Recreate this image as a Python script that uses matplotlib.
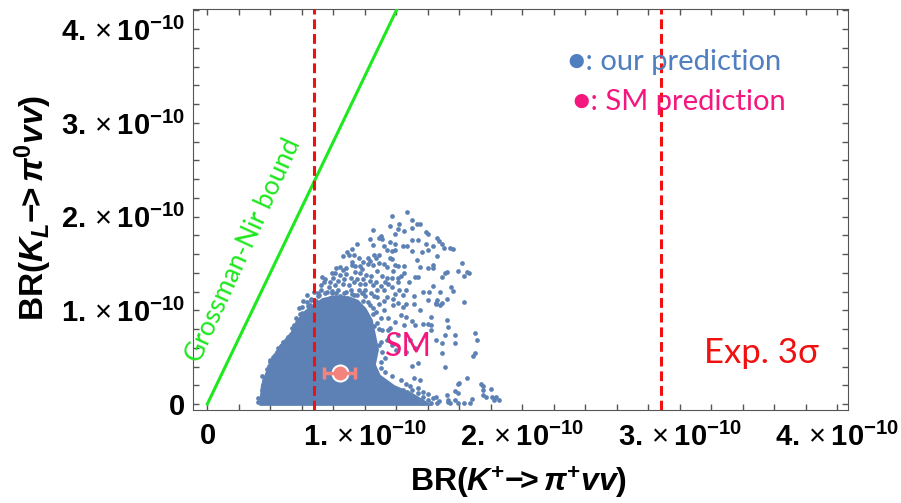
import numpy as np
import matplotlib.pyplot as plt
from matplotlib.ticker import MultipleLocator, FuncFormatter

# fonts: Arial-like bold for axes (Mathematica look), Calibri-like for annotations
plt.rcParams['mathtext.fontset'] = 'custom'
plt.rcParams['mathtext.rm'] = 'Liberation Sans'
plt.rcParams['mathtext.bf'] = 'Liberation Sans:bold'
plt.rcParams['mathtext.it'] = 'Liberation Sans:italic'
plt.rcParams['mathtext.bfit'] = 'Liberation Sans:bold:italic'
plt.rcParams['font.family'] = ['Liberation Sans', 'DejaVu Sans']

# all branching ratios in units of 1e-10
# solid (densely filled) part of the scan, outline
core_x = [0.33, 0.34, 0.37, 0.41, 0.46, 0.53, 0.58, 0.62, 0.67, 0.73, 0.81, 0.90,
          0.96, 1.01, 1.05, 1.07, 1.09, 1.07, 1.10, 1.19, 1.30, 1.38, 1.43]
core_y = [-0.02, 0.20, 0.34, 0.49, 0.63, 0.77, 0.92, 1.00, 1.06, 1.13, 1.16, 1.15,
          1.11, 1.02, 0.90, 0.74, 0.58, 0.42, 0.31, 0.20, 0.12, 0.04, -0.02]

# scattered scan points, upper cloud
upper_x = [1.27, 1.17, 1.30, 1.33, 1.35, 1.22, 1.16, 1.05, 1.21, 1.25, 1.30, 1.39, 1.40,
           1.19, 1.10, 1.09, 1.11, 1.03, 1.30, 1.34, 1.46, 1.47, 1.16, 1.19, 1.39, 0.95,
           1.05, 1.24, 1.27, 1.43, 1.49, 1.50, 1.12, 1.14, 1.17, 1.19, 1.54, 1.56, 0.92,
           0.89, 0.90, 0.86, 1.06, 1.09, 1.07, 1.16, 1.17, 1.30, 1.36, 1.40, 1.46, 0.93,
           0.96, 1.02, 1.03, 1.33, 1.62, 0.92, 0.94, 0.97, 1.02, 1.05, 1.12, 1.14, 1.19,
           1.21, 1.25, 1.35, 1.40, 1.43, 1.43, 0.84, 0.86, 1.52, 1.59, 1.63, 1.66, 0.81,
           0.84, 0.88, 0.94, 0.97, 1.01, 1.04, 1.11, 1.14, 1.17, 1.21, 1.23, 1.32, 1.34,
           1.49, 0.74, 0.77, 0.81, 0.86, 0.90, 0.93, 0.97, 1.00, 1.05, 1.10, 1.15, 1.21,
           1.43, 1.48, 1.55, 0.76, 0.79, 1.22, 1.37, 1.41, 0.70, 0.66, 0.93, 1.00, 1.06,
           1.14, 1.18, 1.24, 1.31, 1.35, 1.26, 1.45, 1.48, 1.40, 1.52, 1.63, 0.60, 0.65,
           1.65, 1.51, 1.56, 1.46, 0.72, 0.83, 0.88, 0.91, 0.96, 0.84, 0.78, 0.99,
           0.75, 0.78, 0.80, 0.83, 0.87, 0.91, 0.95, 0.99, 1.03, 1.07, 1.08, 1.12, 1.13,
           0.72, 0.68, 0.82, 0.88, 0.98, 1.08, 1.00, 1.04, 1.08, 1.12, 0.98, 0.63, 0.73,
           0.79, 0.92, 0.99, 1.09, 1.18, 1.25, 1.28, 1.17, 1.26, 1.31, 1.19]
upper_y = [2.05, 2.01, 1.96, 1.92, 1.92, 1.92, 1.90, 1.86, 1.87, 1.85, 1.88, 1.84, 1.81,
           1.81, 1.79, 1.77, 1.76, 1.76, 1.75, 1.75, 1.77, 1.74, 1.73, 1.71, 1.71, 1.71,
           1.70, 1.69, 1.69, 1.69, 1.71, 1.66, 1.69, 1.64, 1.63, 1.64, 1.66, 1.65, 1.65,
           1.62, 1.59, 1.58, 1.59, 1.59, 1.56, 1.56, 1.55, 1.63, 1.62, 1.64, 1.58, 1.59,
           1.56, 1.56, 1.53, 1.54, 1.50, 1.48, 1.47, 1.47, 1.49, 1.48, 1.49, 1.46, 1.48,
           1.47, 1.47, 1.46, 1.45, 1.48, 1.45, 1.46, 1.43, 1.41, 1.42, 1.37, 1.40, 1.40,
           1.38, 1.39, 1.41, 1.40, 1.38, 1.37, 1.37, 1.34, 1.34, 1.34, 1.37, 1.36, 1.36,
           1.36, 1.30, 1.25, 1.27, 1.28, 1.27, 1.30, 1.28, 1.28, 1.27, 1.26, 1.28, 1.30,
           1.26, 1.20, 1.25, 1.20, 1.18, 1.22, 1.20, 1.20, 1.15, 1.11, 1.16, 1.15, 1.15,
           1.14, 1.12, 1.16, 1.07, 1.00, 1.07, 1.07, 1.06, 1.11, 1.12, 1.09, 1.04, 1.06,
           1.41, 1.40, 1.21, 1.11, 1.22, 1.22, 1.20, 1.22, 1.22, 1.15, 1.13, 1.19,
           1.33, 1.30, 1.35, 1.31, 1.33, 1.35, 1.33, 1.33, 1.31, 1.30, 1.22, 1.22, 1.30,
           1.27, 1.20, 1.45, 1.45, 1.44, 1.42, 1.22, 1.18, 1.14, 1.10, 1.19, 1.16, 1.36,
           1.40, 1.52, 1.52, 1.50, 1.42, 1.40, 1.30, 1.25, 1.22, 1.15, 1.17]

# scattered scan points, middle band and right tail
tail_x = [1.18, 1.21, 1.24, 1.45, 1.49, 1.26, 1.30, 1.32, 1.37, 1.40, 1.42, 1.52, 1.53,
          1.57, 1.57, 1.70, 1.45, 1.49, 1.34, 1.30, 1.51, 1.49, 1.70, 1.69, 1.65, 1.60,
          1.75, 1.80, 1.57, 1.77, 1.81, 1.85, 1.45, 1.40, 1.47, 1.53, 1.57, 1.68, 1.30,
          1.34, 1.37, 1.24, 1.27, 1.59, 1.59, 1.74, 1.75, 1.75, 1.83, 1.82, 1.52, 1.53,
          1.71, 1.51, 1.42, 1.42, 1.37, 1.42, 1.46, 1.54, 1.59, 1.63, 1.67, 1.27, 1.31,
          1.02, 1.05, 1.09, 1.12, 1.15, 1.10, 1.06, 1.11, 1.16, 1.19, 1.14, 1.09, 1.17,
          1.21, 1.23, 1.25, 1.20, 1.13, 1.10, 1.15, 1.07, 1.04, 1.29, 1.26, 1.32]
tail_y = [1.06, 1.08, 1.04, 1.08, 1.08, 0.93, 0.89, 0.84, 0.85, 0.85, 0.79, 0.90, 0.82,
          0.74, 0.65, 0.76, 0.68, 0.65, 0.44, 0.41, 0.39, 0.54, 0.54, 0.51, 0.28, 0.22,
          0.19, 0.16, 0.14, 0.07, 0.07, 0.04, 0.07, 0.04, 0.03, 0.04, 0.04, 0.05, 0.15,
          0.12, 0.07, 0.15, 0.13, 0.21, 0.12, 0.21, 0.15, 0.10, 0.07, 0.04, 0.10, 0.02,
          0.68, 0.74, 0.93, 0.84, 0.01, 0.01, 0.01, 0.01, 0.01, 0.01, 0.01, 0.04, 0.02,
          1.09, 1.02, 1.07, 1.00, 0.92, 0.92, 0.83, 0.79, 0.81, 0.88, 0.68, 0.63, 0.63,
          0.74, 0.95, 0.84, 0.58, 0.49, 0.45, 0.79, 0.98, 0.70, 0.68, 0.55, 0.60]

# points roughening the edge of the solid core
fringe_x = [1.13, 1.17, 1.23, 1.26, 1.29, 1.34, 1.37, 1.40, 1.43, 1.35, 1.31, 0.32,
            0.32, 0.35, 0.36, 0.39, 0.43, 0.48, 0.54, 0.59, 0.63, 0.70, 0.50, 0.40,
            0.56, 0.61, 0.58,
            0.35, 0.345, 0.38, 0.40, 0.44, 0.47, 0.51, 0.55, 0.57, 0.60, 0.64, 0.66,
            0.69, 0.71, 0.75, 0.79, 0.82, 0.87, 0.92, 0.95, 0.99, 1.03, 1.05, 1.08,
            1.09, 1.10, 1.11, 1.10, 0.45, 0.42]
fringe_y = [0.34, 0.30, 0.26, 0.21, 0.19, 0.17, 0.13, 0.11, 0.06, 0.26, 0.28, 0.06,
            0.02, 0.15, 0.26, 0.41, 0.52, 0.66, 0.81, 0.96, 1.09, 1.18, 0.60, 0.47,
            0.92, 1.10, 1.02,
            0.10, 0.30, 0.37, 0.45, 0.56, 0.62, 0.72, 0.84, 0.88, 0.97, 1.05, 1.12,
            1.10, 1.16, 1.19, 1.21, 1.19, 1.18, 1.17, 1.16, 1.10, 1.06, 0.96, 0.86,
            0.80, 0.66, 0.55, 0.38, 0.60, 0.50]

# SM prediction and bounds
sm_kp, sm_kp_err = 0.84, 0.10
sm_kl = 0.33
exp_lo, exp_hi = 0.68, 2.88          # experimental 3 sigma range of BR(K+)
gn_x = [0.0, 1.30]                   # Grossman-Nir bound
gn_y = [0.0, 4.55]

blue = '#5E81B5'

fig = plt.figure(figsize=(9.01, 5.03), dpi=100)
ax = fig.add_axes([193/901, 1 - 410/503, 655/901, 401/503])

ax.fill(core_x, core_y, color=blue, lw=0, zorder=2)
for xs, ys in [(upper_x, upper_y), (tail_x, tail_y), (fringe_x, fringe_y)]:
    ax.plot(xs, ys, 'o', color=blue, ms=3.4, mew=0, zorder=3)

ax.plot(gn_x, gn_y, color='#1EE81E', lw=2.2, zorder=4)
for xv in (exp_lo, exp_hi):
    ax.axvline(xv, color='#F01010', lw=2.2, ls=(0, (3.2, 1.6)), zorder=5)

ax.plot(sm_kp, sm_kl, 'o', color='white', ms=13, mew=0, zorder=6)
ax.errorbar(sm_kp, sm_kl, xerr=sm_kp_err, fmt='o', color='#F4837D', ms=9,
            elinewidth=2.5, capsize=4, capthick=2.5, zorder=7)

ax.text(0.23, 1.64, 'Grossman-Nir bound', color='#1EE81E', rotation=65.5,
        ha='center', va='center', fontsize=19, family='Lato', zorder=8)
ax.text(1.28, 0.61, 'SM', color='#F5167E', ha='center', va='center',
        fontsize=23, family='Lato', zorder=8)
ax.text(3.52, 0.54, 'Exp. 3σ', color='#F01010', ha='center', va='center',
        fontsize=25, family='Lato', zorder=8)
ax.text(2.29, 3.65, '●: our prediction', color='#4F7FBF', ha='left', va='center',
        fontsize=21, family=['Lato', 'DejaVu Sans'], zorder=8)
ax.text(2.32, 3.22, '●: SM prediction', color='#F5167E', ha='left', va='center',
        fontsize=21, family=['Lato', 'DejaVu Sans'], zorder=8)

ax.set_xlim(-0.091, 4.068)
ax.set_ylim(-0.064, 4.216)


def sci(v, pos):
    n = int(round(v))
    if n == 0:
        return r'$\mathbf{0}$'
    return r'$\mathbf{%d.}\times\mathbf{10^{-10}}$' % n


for axis in (ax.xaxis, ax.yaxis):
    axis.set_major_locator(MultipleLocator(1))
    axis.set_minor_locator(MultipleLocator(0.2))
    axis.set_major_formatter(FuncFormatter(sci))
ax.tick_params(which='both', direction='in', length=4, width=1, color='#555555',
               top=True, right=True, labelsize=21)
ax.tick_params(axis='x', pad=9)
ax.tick_params(axis='y', pad=6)
for s in ax.spines.values():
    s.set_color('#555555')

fig.text(519/901, 1 - 483/503,
         r'$\mathbf{BR(}\mathbfit{K}^{\mathbf{+}}\mathbf{-\!\!>}\mathbfit{\pi}^{\mathbf{+}}\mathbfit{vv}\mathbf{)}$',
         ha='center', va='center', fontsize=23)
fig.text(33/901, 1 - 208/503,
         r'$\mathbf{BR(}\mathbfit{K}_{\mathbfit{L}}\mathbf{-\!\!>}\mathbfit{\pi}^{\mathbf{0}}\mathbfit{vv}\mathbf{)}$',
         ha='center', va='center', fontsize=24, rotation=90)

fig.savefig('out.png', dpi=100)
